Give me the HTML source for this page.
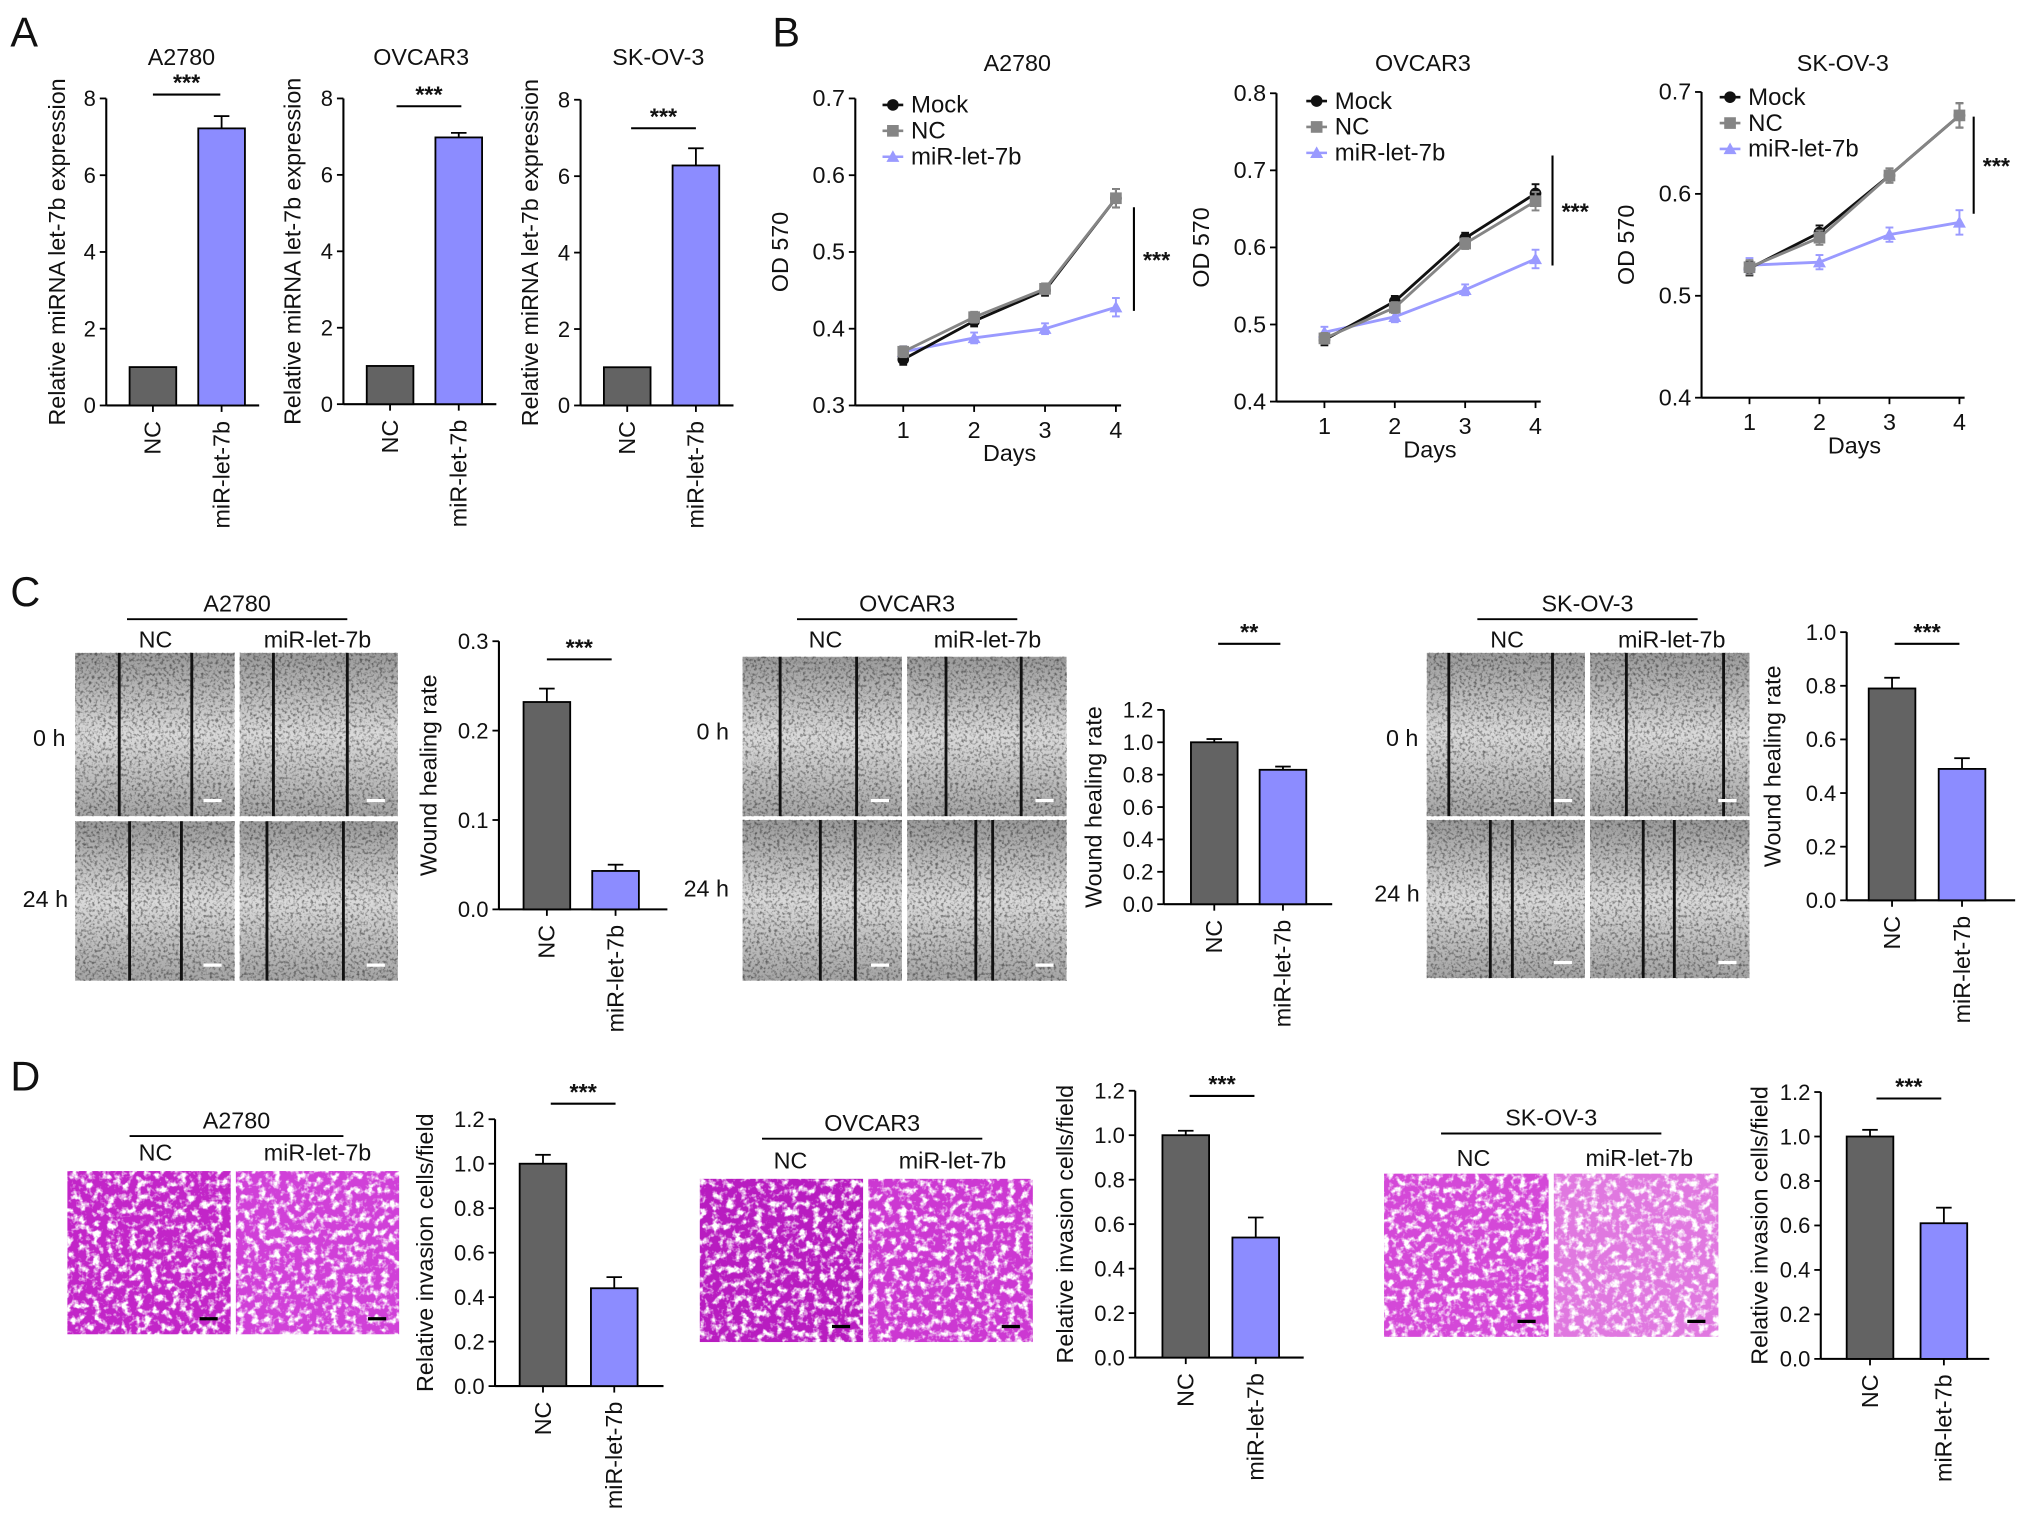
<!DOCTYPE html>
<html><head><meta charset="utf-8"><style>
html,body{margin:0;padding:0;background:#fff;}
svg{display:block;font-family:"Liberation Sans",Arial,sans-serif;}
</style></head><body>
<svg id="fig" width="2032" height="1526" viewBox="0 0 1568 1178" preserveAspectRatio="none" xmlns="http://www.w3.org/2000/svg">
<defs>
<filter id="noise" x="0" y="0" width="1" height="1"><feTurbulence type="fractalNoise" baseFrequency="0.45" numOctaves="2" seed="3"/><feColorMatrix type="matrix" values="0 0 0 0 0  0 0 0 0 0  0 0 0 0 0  0 0 0 -3 1.6"/></filter>
<filter id="pnoise" x="0" y="0" width="1" height="1"><feTurbulence type="fractalNoise" baseFrequency="0.18" numOctaves="3" seed="7"/><feColorMatrix type="matrix" values="0 0 0 0 1  0 0 0 0 1  0 0 0 0 1  0 0 0 -4 2.1"/></filter>
<linearGradient id="gv" x1="0" y1="0" x2="0" y2="1"><stop offset="0" stop-color="#9a9a9a"/><stop offset="0.5" stop-color="#dadada"/><stop offset="1" stop-color="#a4a4a4"/></linearGradient>
</defs>
<g id="root"></g>
</svg>
<script>
// ---------- data ----------
const barCats = ['NC', 'miR-let-7b'];
const a1Vals = [1, 7.22], a1Err = [0, 0.32];
const a2Vals = [1, 6.98], a2Err = [0, 0.12];
const a3Vals = [1, 6.28], a3Err = [0, 0.45];
const aTicks = [0, 2, 4, 6, 8];
const days = [1, 2, 3, 4];
const b1Mock = [0.36, 0.41, 0.45, 0.57], b1NC = [0.37, 0.415, 0.452, 0.57], b1Mir = [0.37, 0.388, 0.40, 0.428];
const b2Mock = [0.48, 0.53, 0.612, 0.67], b2NC = [0.482, 0.522, 0.605, 0.66], b2Mir = [0.49, 0.51, 0.545, 0.585];
const b3Mock = [0.527, 0.562, 0.618, 0.677], b3NC = [0.528, 0.557, 0.618, 0.677], b3Mir = [0.53, 0.533, 0.56, 0.572];
const b1Ticks = [0.3, 0.4, 0.5, 0.6, 0.7], b2Ticks = [0.4, 0.5, 0.6, 0.7, 0.8], b3Ticks = [0.4, 0.5, 0.6, 0.7];
const c1Vals = [0.232, 0.043], c1Err = [0.015, 0.007];
const c2Vals = [1.0, 0.83], c2Err = [0.02, 0.02];
const c3Vals = [0.79, 0.49], c3Err = [0.04, 0.04];
const c1Ticks = [0, 0.1, 0.2, 0.3], c2Ticks = [0, 0.2, 0.4, 0.6, 0.8, 1.0, 1.2], c3Ticks = [0, 0.2, 0.4, 0.6, 0.8, 1.0];
const d1Vals = [1.0, 0.44], d1Err = [0.04, 0.05];
const d2Vals = [1.0, 0.54], d2Err = [0.02, 0.09];
const d3Vals = [1.0, 0.61], d3Err = [0.03, 0.07];
const dTicks = [0, 0.2, 0.4, 0.6, 0.8, 1.0, 1.2];

const NS = 'http://www.w3.org/2000/svg';
const root = document.getElementById('root');
function el(tag, attrs, parent, txt) {
  const e = document.createElementNS(NS, tag);
  for (const k in attrs) e.setAttribute(k, attrs[k]);
  if (txt !== undefined) e.textContent = txt;
  (parent || root).appendChild(e);
  return e;
}
function txt(x, y, s, size, name, extra) {
  const t = el('text', Object.assign({x: x, y: y, 'font-size': size, fill: '#111'}, extra || {}), null, s);
  
  
  return t;
}
const BARC = ['#636363', '#8c8cff'];
const FS = 18;

function barChart(c) {
  const g = el('g', {});
  
  
  const tmax = c.ticks[c.ticks.length - 1];
  const ys = v => c.y0 - (v / tmax) * (c.y0 - c.yTop);
  el('line', {x1: c.ax, y1: c.y0, x2: c.ax, y2: c.yTop, stroke: '#000', 'stroke-width': 1.6}, g);
  el('line', {x1: c.ax, y1: c.y0, x2: c.ax + c.w, y2: c.y0, stroke: '#000', 'stroke-width': 1.6}, g);
  c.ticks.forEach((t, i) => {
    el('line', {x1: c.ax - 5, y1: ys(t), x2: c.ax, y2: ys(t), stroke: '#000', 'stroke-width': 1.4}, g);
    const lt = el('text', {x: c.ax - 8, y: ys(t) + 6, 'font-size': 17, 'text-anchor': 'end', fill: '#111'}, g, c.fmt(t));
    
    
  });
  c.vals.forEach((v, i) => {
    const bx = c.bx[i], bw = 36;
    const r = el('rect', {x: bx, y: ys(v), width: bw, height: c.y0 - ys(v), fill: BARC[i], stroke: '#000', 'stroke-width': 1.4}, g);
    
    
    if (c.err[i] > 0) {
      el('line', {x1: bx + bw / 2, y1: ys(v), x2: bx + bw / 2, y2: ys(v + c.err[i]), stroke: '#000', 'stroke-width': 1.4}, g);
      el('line', {x1: bx + bw / 2 - 6, y1: ys(v + c.err[i]), x2: bx + bw / 2 + 6, y2: ys(v + c.err[i]), stroke: '#000', 'stroke-width': 1.4}, g);
    }
    el('line', {x1: bx + bw / 2, y1: c.y0, x2: bx + bw / 2, y2: c.y0 + 5, stroke: '#000', 'stroke-width': 1.4}, g);
    const cx = bx + bw / 2 + 6, cy = c.y0 + 12;
    const ct = el('text', {x: cx, y: cy, 'font-size': FS, 'text-anchor': 'end', fill: '#111', transform: `rotate(-90 ${cx} ${cy})`}, g, barCats[i]);
    
    
  });
  const yl = el('text', {x: c.lx, y: (c.y0 + c.yTop) / 2 + c.lyOff, 'font-size': FS, 'text-anchor': 'middle', fill: '#111', transform: `rotate(-90 ${c.lx} ${(c.y0 + c.yTop) / 2 + c.lyOff})`}, g, c.ylabel);
  
  
  if (c.title) {
    const tt = el('text', {x: c.title[1], y: c.title[2], 'font-size': FS, 'text-anchor': 'middle', fill: '#111'}, g, c.title[0]);
    
    
  }
  el('line', {x1: c.sig[0], y1: c.sig[2], x2: c.sig[1], y2: c.sig[2], stroke: '#000', 'stroke-width': 1.6}, g);
  const st = el('text', {x: (c.sig[0] + c.sig[1]) / 2, y: c.sig[2] - 3, 'font-size': 18, 'font-weight': 'bold', 'text-anchor': 'middle', fill: '#111'}, g, c.sig[3]);
  
  
}

const fInt = t => String(t), f1 = t => t.toFixed(1);
barChart({name: 'chart-a-a2780', ax: 82, y0: 313, yTop: 76, w: 118, ticks: aTicks, fmt: fInt, bx: [100, 153], vals: a1Vals, err: a1Err, lx: 50, lyOff: 0, ylabel: 'Relative miRNA let-7b expression', title: ['A2780', 140, 50], sig: [118, 170, 73, '***']});
barChart({name: 'chart-a-ovcar3', ax: 265, y0: 312, yTop: 76, w: 118, ticks: aTicks, fmt: fInt, bx: [283, 336], vals: a2Vals, err: a2Err, lx: 232, lyOff: 0, ylabel: 'Relative miRNA let-7b expression', title: ['OVCAR3', 325, 50], sig: [306, 356, 82, '***']});
barChart({name: 'chart-a-skov3', ax: 448, y0: 313, yTop: 77, w: 118, ticks: aTicks, fmt: fInt, bx: [466, 519], vals: a3Vals, err: a3Err, lx: 415, lyOff: 0, ylabel: 'Relative miRNA let-7b expression', title: ['SK-OV-3', 508, 50], sig: [487, 537, 99, '***']});

barChart({name: 'chart-c-a2780', ax: 385, y0: 702, yTop: 495, w: 130, ticks: c1Ticks, fmt: f1, bx: [404, 457], vals: c1Vals, err: c1Err, lx: 337, lyOff: 0, ylabel: 'Wound healing rate', sig: [422, 472, 509, '***']});
barChart({name: 'chart-c-ovcar3', ax: 898, y0: 698, yTop: 548, w: 130, ticks: c2Ticks, fmt: f1, bx: [919, 972], vals: c2Vals, err: c2Err, lx: 850, lyOff: 0, ylabel: 'Wound healing rate', sig: [940, 988, 497, '**']});
barChart({name: 'chart-c-skov3', ax: 1425, y0: 695, yTop: 488, w: 130, ticks: c3Ticks, fmt: f1, bx: [1442, 1496], vals: c3Vals, err: c3Err, lx: 1374, lyOff: 0, ylabel: 'Wound healing rate', sig: [1462, 1512, 497, '***']});

barChart({name: 'chart-d-a2780', ax: 382, y0: 1070, yTop: 864, w: 130, ticks: dTicks, fmt: f1, bx: [401, 456], vals: d1Vals, err: d1Err, lx: 334, lyOff: 0, ylabel: 'Relative invasion cells/field', sig: [425, 475, 852, '***']});
barChart({name: 'chart-d-ovcar3', ax: 876, y0: 1048, yTop: 842, w: 130, ticks: dTicks, fmt: f1, bx: [897, 951], vals: d2Vals, err: d2Err, lx: 828, lyOff: 0, ylabel: 'Relative invasion cells/field', sig: [918, 968, 846, '***']});
barChart({name: 'chart-d-skov3', ax: 1405, y0: 1049, yTop: 843, w: 130, ticks: dTicks, fmt: f1, bx: [1425, 1482], vals: d3Vals, err: d3Err, lx: 1364, lyOff: 0, ylabel: 'Relative invasion cells/field', sig: [1448, 1498, 848, '***']});

function lineChart(c) {
  const g = el('g', {});
  
  
  const t0 = c.ticks[0], t1 = c.ticks[c.ticks.length - 1];
  const ys = v => c.y0 - (v - t0) / (t1 - t0) * (c.y0 - c.yTop);
  const xs = d => c.x1 + (d - 1) * c.dx;
  el('line', {x1: c.ax, y1: c.y0, x2: c.ax, y2: c.yTop, stroke: '#000', 'stroke-width': 1.6}, g);
  el('line', {x1: c.ax, y1: c.y0, x2: xs(4) + 4, y2: c.y0, stroke: '#000', 'stroke-width': 1.6}, g);
  c.ticks.forEach(t => {
    el('line', {x1: c.ax - 5, y1: ys(t), x2: c.ax, y2: ys(t), stroke: '#000', 'stroke-width': 1.4}, g);
    const lt = el('text', {x: c.ax - 8, y: ys(t) + 6, 'font-size': 18, 'text-anchor': 'end', fill: '#111'}, g, t.toFixed(1));
    
    
  });
  days.forEach(d => {
    el('line', {x1: xs(d), y1: c.y0, x2: xs(d), y2: c.y0 + 5, stroke: '#000', 'stroke-width': 1.4}, g);
    const lt = el('text', {x: xs(d), y: c.y0 + 25, 'font-size': 18, 'text-anchor': 'middle', fill: '#111'}, g, String(d));
    
    
  });
  const xt = el('text', {x: (xs(1) + xs(4)) / 2, y: c.y0 + 43, 'font-size': 18, 'text-anchor': 'middle', fill: '#111'}, g, 'Days');
  
  
  const ly = (c.y0 + c.yTop) / 2;
  const yl = el('text', {x: c.ax - 52, y: ly, 'font-size': 18, 'text-anchor': 'middle', fill: '#111', transform: `rotate(-90 ${c.ax - 52} ${ly})`}, g, 'OD 570');
  
  
  const tt = el('text', {x: c.title[1], y: c.title[2], 'font-size': 18, 'text-anchor': 'middle', fill: '#111'}, g, c.title[0]);
  
  
  const series = [[c.mir, '#9a9aff', 'tri', 'miR-let-7b'], [c.mock, '#111', 'dot', 'Mock'], [c.nc, '#858585', 'sq', 'NC']];
  function marker(x, y, kind, col, parent) {
    if (kind === 'dot') el('circle', {cx: x, cy: y, r: 4.5, fill: col}, parent);
    else if (kind === 'sq') el('rect', {x: x - 4.5, y: y - 4.5, width: 9, height: 9, fill: col}, parent);
    else el('path', {d: `M${x} ${y - 5}L${x + 5} ${y + 4}L${x - 5} ${y + 4}Z`, fill: col}, parent);
  }
  series.forEach(([vals, col, kind, label]) => {
    const sg = el('g', {}, g);
    
    
    el('polyline', {points: vals.map((v, i) => xs(days[i]) + ',' + ys(v)).join(' '), fill: 'none', stroke: col, 'stroke-width': 2.2}, sg);
    vals.forEach((v, i) => {
      const x = xs(days[i]), e = i === 3 ? 0.012 : 0.007;
      el('line', {x1: x, y1: ys(v - e), x2: x, y2: ys(v + e), stroke: col, 'stroke-width': 1.5}, sg);
      el('line', {x1: x - 3, y1: ys(v + e), x2: x + 3, y2: ys(v + e), stroke: col, 'stroke-width': 1.5}, sg);
      el('line', {x1: x - 3, y1: ys(v - e), x2: x + 3, y2: ys(v - e), stroke: col, 'stroke-width': 1.5}, sg);
      marker(x, ys(v), kind, col, sg);
    });
  });
  [['Mock', '#111', 'dot'], ['NC', '#858585', 'sq'], ['miR-let-7b', '#9a9aff', 'tri']].forEach(([label, col, kind], i) => {
    const y = c.leg[1] + i * 20;
    const lg = el('g', {}, g);
    
    
    el('line', {x1: c.leg[0] - 8, y1: y, x2: c.leg[0] + 8, y2: y, stroke: col, 'stroke-width': 2}, lg);
    marker(c.leg[0], y, kind, col, lg);
    el('text', {x: c.leg[0] + 14, y: y + 6, 'font-size': 18.5, fill: '#111'}, lg, label);
  });
  el('line', {x1: c.sig[0], y1: c.sig[1], x2: c.sig[0], y2: c.sig[2], stroke: '#000', 'stroke-width': 1.6}, g);
  const st = el('text', {x: c.sig[0] + 7, y: (c.sig[1] + c.sig[2]) / 2 + 7, 'font-size': 18, 'font-weight': 'bold', fill: '#111'}, g, '***');
  
  
}
lineChart({name: 'chart-b-a2780', ax: 660, y0: 313, yTop: 76, x1: 697, dx: 54.7, ticks: b1Ticks, mock: b1Mock, nc: b1NC, mir: b1Mir, title: ['A2780', 785, 55], leg: [689, 81], sig: [875, 160, 240]});
lineChart({name: 'chart-b-ovcar3', ax: 985, y0: 310, yTop: 72, x1: 1022, dx: 54.3, ticks: b2Ticks, mock: b2Mock, nc: b2NC, mir: b2Mir, title: ['OVCAR3', 1098, 55], leg: [1016, 78], sig: [1198, 120, 205]});
lineChart({name: 'chart-b-skov3', ax: 1313, y0: 307, yTop: 71, x1: 1350, dx: 54, ticks: b3Ticks, mock: b3Mock, nc: b3NC, mir: b3Mir, title: ['SK-OV-3', 1422, 55], leg: [1335, 75], sig: [1523, 90, 165]});

// panel letters
[['A', 8, 36], ['B', 596, 36], ['C', 8, 468], ['D', 8, 842]].forEach(([s, x, y]) => txt(x, y, s, 32, 'panel-label-' + s.toLowerCase()));

// images
function micro(x, y, w, h, kind, lines, name) {
  const g = el('g', {});
  
  
  if (kind === 'gray') {
    el('rect', {x: x, y: y, width: w, height: h, fill: 'url(#gv)'}, g);
    el('rect', {x: x, y: y, width: w, height: h, fill: '#000', filter: 'url(#noise)', opacity: 0.45}, g);
    lines.forEach(lx => el('line', {x1: lx, y1: y, x2: lx, y2: y + h, stroke: '#111', 'stroke-width': 2.2}, g));
  } else {
    el('rect', {x: x, y: y, width: w, height: h, fill: kind}, g);
    el('rect', {x: x, y: y, width: w, height: h, fill: '#fff', filter: 'url(#pnoise)'}, g);
  }
  el('line', {x1: x + w - 24, y1: y + h - 12, x2: x + w - 10, y2: y + h - 12, stroke: kind === 'gray' ? '#fff' : '#000', 'stroke-width': 2.5}, g);
}
function header(x1, x2, y, title, nc, mir, ly) {
  el('line', {x1: x1, y1: y, x2: x2, y2: y, stroke: '#000', 'stroke-width': 1.5});
  txt((x1 + x2) / 2, y - 6, title, 18, 'image-group-title', {'text-anchor': 'middle'});
  txt(nc, ly, 'NC', 18, 'image-column-label', {'text-anchor': 'middle'});
  txt(mir, ly, 'miR-let-7b', 18, 'image-column-label', {'text-anchor': 'middle'});
}
// C
header(98, 268, 478, 'A2780', 120, 245, 500);
micro(58, 504, 123, 126, 'gray', [92, 148], 'wound-image-a2780-nc-0h');
micro(185, 504, 122, 126, 'gray', [211, 268], 'wound-image-a2780-mir-0h');
micro(58, 634, 123, 123, 'gray', [100, 140], 'wound-image-a2780-nc-24h');
micro(185, 634, 122, 123, 'gray', [206, 265], 'wound-image-a2780-mir-24h');
txt(38, 576, '0 h', 18, 'row-label-0h', {'text-anchor': 'middle'});
txt(35, 700, '24 h', 18, 'row-label-24h', {'text-anchor': 'middle'});
header(615, 785, 478, 'OVCAR3', 637, 762, 500);
micro(573, 507, 123, 123, 'gray', [602, 661], 'wound-image-ovcar3-nc-0h');
micro(700, 507, 123, 123, 'gray', [730, 788], 'wound-image-ovcar3-mir-0h');
micro(573, 633, 123, 124, 'gray', [633, 660], 'wound-image-ovcar3-nc-24h');
micro(700, 633, 123, 124, 'gray', [753, 766], 'wound-image-ovcar3-mir-24h');
txt(550, 571, '0 h', 18, 'row-label-0h', {'text-anchor': 'middle'});
txt(545, 692, '24 h', 18, 'row-label-24h', {'text-anchor': 'middle'});
header(1140, 1310, 478, 'SK-OV-3', 1163, 1290, 500);
micro(1101, 504, 122, 126, 'gray', [1118, 1198], 'wound-image-skov3-nc-0h');
micro(1227, 504, 123, 126, 'gray', [1255, 1330], 'wound-image-skov3-mir-0h');
micro(1101, 633, 122, 122, 'gray', [1150, 1167], 'wound-image-skov3-nc-24h');
micro(1227, 633, 123, 122, 'gray', [1268, 1292], 'wound-image-skov3-mir-24h');
txt(1082, 576, '0 h', 18, 'row-label-0h', {'text-anchor': 'middle'});
txt(1078, 696, '24 h', 18, 'row-label-24h', {'text-anchor': 'middle'});
// D
header(100, 265, 877, 'A2780', 120, 245, 896);
micro(52, 904, 126, 126, '#c225c8', [], 'invasion-image-a2780-nc');
micro(182, 904, 126, 126, '#d040d8', [], 'invasion-image-a2780-mir');
header(588, 758, 879, 'OVCAR3', 610, 735, 902);
micro(540, 910, 126, 126, '#b81cc0', [], 'invasion-image-ovcar3-nc');
micro(670, 910, 127, 126, '#cc38d2', [], 'invasion-image-ovcar3-mir');
header(1112, 1282, 875, 'SK-OV-3', 1137, 1265, 900);
micro(1068, 906, 127, 126, '#d448d8', [], 'invasion-image-skov3-nc');
micro(1199, 906, 127, 126, '#e078e0', [], 'invasion-image-skov3-mir');
</script>
</body></html>
